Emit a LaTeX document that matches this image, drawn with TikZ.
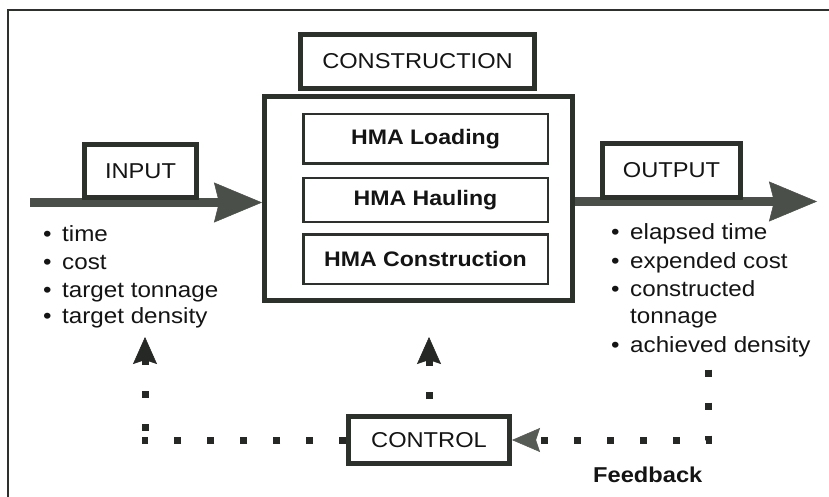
\documentclass[tikz,border=0pt]{standalone}
\usepackage{fontspec}
\setmainfont[FakeStretch=1.1]{Liberation Sans}
\usetikzlibrary{arrows.meta,calc}
\definecolor{bdr}{HTML}{2C312C}
\definecolor{shaft}{HTML}{4A4F49}
\definecolor{txt}{HTML}{141414}
\definecolor{dotc}{HTML}{262826}
\definecolor{headg}{HTML}{565B55}
\begin{document}
\begin{tikzpicture}[x=1pt,y=-1pt,
  thickbox/.style={draw=bdr,line width=5pt,fill=white,inner sep=0pt,text=txt,font=\fontsize{21.5}{24}\selectfont},
  subbox/.style={draw=bdr,line width=2.5pt,fill=white,inner sep=0pt,text=txt,font=\bfseries\fontsize{21}{24}\selectfont,minimum width=244.5pt},
  bigarrow/.style={draw=shaft,line width=9pt,-{Stealth[length=48pt,width=40pt,inset=5pt,line width=0.5pt,color=shaft]}},
  dotline/.style={draw=dotc,line width=7pt,dash pattern=on 7pt off 26pt},
  uphead/.style={-{Stealth[length=27pt,width=24pt,inset=4pt,line width=0.5pt,color=dotc]}},
  grayhead/.style={-{Stealth[length=28pt,width=24pt,inset=4pt,line width=0.5pt,color=headg]}},
  listtxt/.style={anchor=base west,inner sep=0pt,text=txt,font=\fontsize{22}{26}\selectfont}
]
\useasboundingbox (0,0) rectangle (829,497);
\fill[white] (0,0) rectangle (829,497);
% outer frame
\draw[bdr,line width=2.5pt] (829,10) -- (8,10) -- (8,497);

% construction blocks
\node[thickbox,minimum width=234pt,minimum height=54pt] (constr) at (417.5,61.5) {CONSTRUCTION};
\node[thickbox,minimum width=308pt,minimum height=204pt] (big) at (418.5,198.5) {};
\node[subbox,minimum height=49.5pt] (load) at (425.5,139) {HMA Loading};
\node[subbox,minimum height=43.5pt] (haul) at (425.5,200) {HMA Hauling};
\node[subbox,minimum height=49.5pt] (hmac) at (425.5,259) {HMA Construction};

% input arrow
\coordinate (inS) at (30,202.5);
\draw[bigarrow] (inS) -- (inS -| big.west);
\node[thickbox,minimum width=112pt,minimum height=53pt] (input) at (140.5,171) {INPUT};

% output arrow
\coordinate (outE) at (817,201.5);
\draw[bigarrow] (big.east |- outE) -- (outE);
\node[thickbox,minimum width=138pt,minimum height=53pt] (output) at (671.5,170.5) {OUTPUT};

% control
\node[thickbox,minimum width=161pt,minimum height=47pt] (control) at (429,440) {CONTROL};

% control -> input (dotted)
\coordinate (lc) at (141.5,440);
\coordinate (lt) at (145,337);
\draw[dotline] (control.west) -- (lc);
\draw[dotline,uphead,dash phase=23.5pt] (lt |- lc) -- (lt);
% control -> construction (dotted)
\draw[dotline,uphead,dash phase=18pt] (control.north) -- (control.north |- lt);
% feedback: output -> control (dotted)
\coordinate (fb) at (708,369.5);
\draw[dotline,grayhead] (fb) -- (fb |- control.east) -- (control.east);

\node[anchor=base west,inner sep=0pt,text=txt,font=\bfseries\fontsize{21.5}{24}\selectfont] (fbl) at (593,482) {Feedback};

% input list
\node[listtxt] (i1) at (43,241) {\makebox[19pt][l]{•}time};
\node[listtxt] (i2) at (43,269) {\makebox[19pt][l]{•}cost};
\node[listtxt] (i3) at (43,297) {\makebox[19pt][l]{•}target tonnage};
\node[listtxt] (i4) at (43,323) {\makebox[19pt][l]{•}target density};

% output list
\node[listtxt] (o1) at (611,239) {\makebox[19pt][l]{•}elapsed time};
\node[listtxt] (o2) at (611,268) {\makebox[19pt][l]{•}expended cost};
\node[listtxt] (o3) at (611,296) {\makebox[19pt][l]{•}constructed};
\node[listtxt] (o4) at (611,323) {\makebox[19pt][l]{}tonnage};
\node[listtxt] (o5) at (611,352) {\makebox[19pt][l]{•}achieved density};
\end{tikzpicture}
\end{document}
